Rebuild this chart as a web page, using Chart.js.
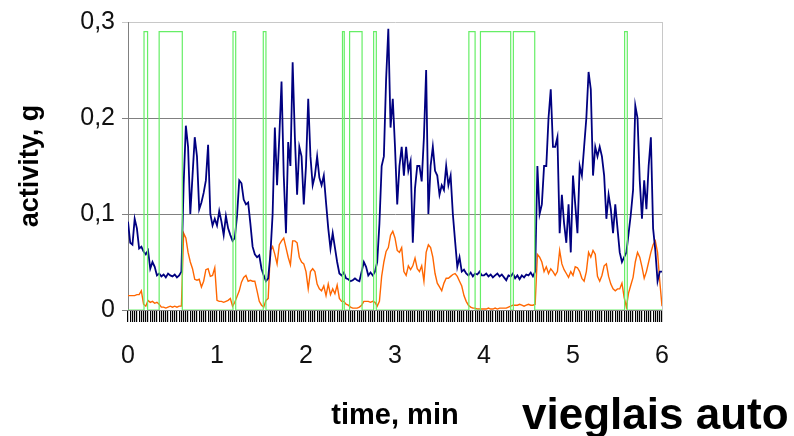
<!DOCTYPE html>
<html>
<head>
<meta charset="utf-8">
<script src="https://cdn.jsdelivr.net/npm/chart.js@4.4.1/dist/chart.umd.min.js"></script>
<style>
  body { margin: 0; background: #fff; overflow: hidden; }
  #wrap { position: relative; width: 794px; height: 436px; }
  #note {
    position: absolute; left: 522px; top: 392px;
    font: bold 44px "Liberation Sans", Arial, sans-serif;
    line-height: 44px; white-space: nowrap; color: #000;
  }
</style>
</head>
<body>
<div id="wrap">
  <canvas id="chart" width="794" height="436"></canvas>
  <div id="note">vieglais auto</div>
</div>
<script>
// samples every 0.025 min
const sampleStep = 0.025;

const navy = [
  0.092, 0.070, 0.068, 0.095, 0.085, 0.064, 0.066, 0.061, 0.058, 0.062,
  0.043, 0.050, 0.045, 0.036, 0.038, 0.035, 0.037, 0.034, 0.038, 0.036,
  0.035, 0.037, 0.034, 0.036, 0.040, 0.130, 0.192, 0.170, 0.100, 0.140,
  0.180, 0.160, 0.105, 0.112, 0.122, 0.135, 0.172, 0.100, 0.088, 0.095,
  0.088, 0.103, 0.092, 0.078, 0.098, 0.085, 0.078, 0.072, 0.075, 0.098,
  0.135, 0.132, 0.115, 0.110, 0.112, 0.090, 0.066, 0.058, 0.055, 0.057,
  0.043, 0.036, 0.030, 0.033, 0.058, 0.100, 0.190, 0.130, 0.180, 0.238,
  0.140, 0.080, 0.175, 0.150, 0.258, 0.180, 0.120, 0.170, 0.160, 0.110,
  0.150, 0.220, 0.160, 0.130, 0.140, 0.160, 0.138, 0.130, 0.140, 0.112,
  0.085, 0.064, 0.080, 0.065, 0.050, 0.038, 0.036, 0.039, 0.033, 0.032,
  0.030, 0.031, 0.033, 0.031, 0.030, 0.040, 0.050, 0.045, 0.036, 0.039,
  0.036, 0.040, 0.050, 0.090, 0.150, 0.160, 0.240, 0.293, 0.190, 0.220,
  0.170, 0.110, 0.150, 0.170, 0.140, 0.170, 0.145, 0.155, 0.070, 0.127,
  0.150, 0.150, 0.134, 0.180, 0.250, 0.100, 0.150, 0.170, 0.145, 0.140,
  0.120, 0.130, 0.125, 0.150, 0.130, 0.140, 0.100, 0.072, 0.045, 0.055,
  0.040, 0.042, 0.038, 0.036, 0.039, 0.035, 0.038, 0.037, 0.040, 0.036,
  0.036, 0.038, 0.035, 0.037, 0.034, 0.036, 0.038, 0.035, 0.037, 0.034,
  0.031, 0.036, 0.035, 0.038, 0.033, 0.036, 0.032, 0.036, 0.034, 0.037,
  0.036, 0.039, 0.035, 0.040, 0.150, 0.100, 0.110, 0.150, 0.150, 0.200,
  0.230, 0.170, 0.170, 0.180, 0.080, 0.120, 0.090, 0.070, 0.110, 0.060,
  0.140, 0.110, 0.080, 0.150, 0.140, 0.170, 0.200, 0.248, 0.230, 0.140,
  0.170, 0.160, 0.170, 0.160, 0.140, 0.095, 0.120, 0.105, 0.080, 0.110,
  0.085, 0.060, 0.050, 0.055, 0.060, 0.080, 0.100, 0.125, 0.213, 0.200,
  0.135, 0.095, 0.135, 0.105, 0.150, 0.180, 0.085, 0.062, 0.030, 0.040, 0.040
];

const orange = [
  0.015, 0.015, 0.015, 0.015, 0.016, 0.016, 0.020, 0.006, 0.004, 0.010,
  0.008, 0.009, 0.007, 0.008, 0.006, 0.003, 0.003, 0.002, 0.003, 0.004,
  0.003, 0.004, 0.003, 0.004, 0.004, 0.080, 0.075, 0.060, 0.050, 0.043,
  0.032, 0.031, 0.032, 0.024, 0.030, 0.042, 0.043, 0.035, 0.036, 0.044,
  0.010, 0.009, 0.009, 0.008, 0.009, 0.010, 0.012, 0.004, 0.008, 0.014,
  0.020, 0.029, 0.034, 0.036, 0.030, 0.031, 0.030, 0.030, 0.020, 0.009,
  0.005, 0.003, 0.010, 0.012, 0.062, 0.066, 0.058, 0.048, 0.068, 0.072,
  0.075, 0.065, 0.055, 0.047, 0.072, 0.072, 0.070, 0.055, 0.050, 0.048,
  0.040, 0.022, 0.040, 0.043, 0.040, 0.027, 0.022, 0.020, 0.025, 0.015,
  0.027, 0.016, 0.022, 0.017, 0.026, 0.012, 0.009, 0.009, 0.006, 0.005,
  0.003, 0.002, 0.002, 0.002, 0.003, 0.005, 0.009, 0.009, 0.009, 0.008,
  0.009, 0.008, 0.004, 0.009, 0.035, 0.050, 0.061, 0.065, 0.078, 0.082,
  0.075, 0.062, 0.060, 0.065, 0.040, 0.036, 0.046, 0.042, 0.046, 0.054,
  0.043, 0.040, 0.046, 0.030, 0.060, 0.068, 0.065, 0.055, 0.038, 0.028,
  0.024, 0.020, 0.028, 0.033, 0.033, 0.035, 0.037, 0.038, 0.035, 0.030,
  0.025, 0.015, 0.009, 0.005, 0.003, 0.002, 0.002, 0.001, 0.001, 0.001,
  0.001, 0.001, 0.002, 0.001, 0.001, 0.002, 0.001, 0.002, 0.002, 0.002,
  0.002, 0.003, 0.004, 0.005, 0.005, 0.005, 0.006, 0.005, 0.004, 0.005,
  0.006, 0.005, 0.005, 0.006, 0.058, 0.055, 0.050, 0.040, 0.045, 0.038,
  0.043, 0.040, 0.036, 0.040, 0.062, 0.048, 0.042, 0.038, 0.034, 0.040,
  0.036, 0.045, 0.044, 0.040, 0.033, 0.030, 0.040, 0.060, 0.055, 0.062,
  0.058, 0.035, 0.030, 0.036, 0.046, 0.048, 0.035, 0.027, 0.022, 0.020,
  0.022, 0.022, 0.028, 0.013, 0.003, 0.018, 0.026, 0.034, 0.050, 0.060,
  0.055, 0.045, 0.033, 0.040, 0.050, 0.060, 0.068, 0.072, 0.060, 0.030, 0.004
];

// green on/off signal: value holds from each time until the next one
const greenTimes = [0, 0.18, 0.22, 0.35, 0.61, 1.18, 1.21, 1.52, 1.55, 2.41, 2.43, 2.49,
  2.63, 2.76, 2.79, 3.83, 3.90, 3.96, 4.30, 4.33, 4.57, 5.58, 5.61, 6];
const greenValues = [0, 0.29, 0, 0.29, 0, 0.29, 0, 0.29, 0, 0.29, 0, 0.29,
  0, 0.29, 0, 0.29, 0, 0.29, 0, 0.29, 0, 0.29, 0, 0];

const xTickLabels = ['0', '1', '2', '3', '4', '5', '6'];
const yTickLabels = ['0', '0,1', '0,2', '0,3'];

const times = navy.map((_, i) => +(i * sampleStep).toFixed(3));
const fam = "'Liberation Sans', Arial, sans-serif";

const ctx = document.getElementById('chart').getContext('2d');

new Chart(ctx, {
  type: 'line',
  data: {
    datasets: [
      {
        label: 'signal',
        data: greenTimes.map((t, i) => ({ x: t, y: greenValues[i] })),
        borderColor: '#66ee66',
        borderWidth: 1.2,
        stepped: true,
        pointRadius: 0,
        order: 1
      },
      {
        label: 'activity',
        data: times.map((t, i) => ({ x: t, y: navy[i] })),
        borderColor: '#000080',
        borderWidth: 1.8,
        pointRadius: 0,
        order: 2
      },
      {
        label: 'activity 2',
        data: times.map((t, i) => ({ x: t, y: orange[i] })),
        borderColor: '#ff6600',
        borderWidth: 1.4,
        pointRadius: 0,
        order: 3
      }
    ]
  },
  options: {
    responsive: false,
    animation: false,
    layout: { padding: { left: 0, right: 132, top: 22, bottom: 0 } },
    plugins: { legend: { display: false }, tooltip: { enabled: false } },
    scales: {
      x: {
        type: 'linear', position: 'bottom', weight: 1, min: 0, max: 6,
        ticks: {
          stepSize: 1, color: '#111', padding: 19,
          font: { family: fam, size: 25 },
          callback: (v, i) => xTickLabels[i]
        },
        grid: { display: false, drawTicks: false },
        border: { display: false },
        title: {
          display: true, text: 'time, min', color: '#000',
          font: { family: fam, size: 29, weight: 'bold' },
          padding: { top: 0, bottom: 3 }
        },
        afterFit: s => { s.height = 114; }
      },
      x2: {
        type: 'linear', position: 'bottom', weight: 0, min: 0, max: 6,
        ticks: { display: false },
        grid: { drawOnChartArea: false, tickLength: 12, color: '#000', lineWidth: 1.2 },
        border: { color: '#808080' },
        afterBuildTicks: s => { s.ticks = times.map(v => ({ value: v })); },
        afterFit: s => { s.height = 12; }
      },
      y: {
        min: 0, max: 0.3,
        ticks: {
          stepSize: 0.1, color: '#111', padding: 7,
          font: { family: fam, size: 25 },
          callback: (v, i) => yTickLabels[i]
        },
        grid: {
          color: c => (c.tick && c.tick.value > 0.25 ? '#c8c8c8' : '#808080'),
          tickLength: 6
        },
        border: { color: '#808080' },
        title: {
          display: true, text: 'activity, g', color: '#000',
          font: { family: fam, size: 27, weight: 'bold' },
          padding: { top: 14, bottom: 0 }
        },
        afterFit: s => { s.width = 128; }
      },
      y2: {
        position: 'right', min: 0, max: 0.3,
        ticks: { display: false },
        grid: { display: false, drawTicks: false },
        border: { color: '#c8c8c8' },
        afterFit: s => { s.width = 0; }
      }
    }
  }
});
</script>
</body>
</html>
